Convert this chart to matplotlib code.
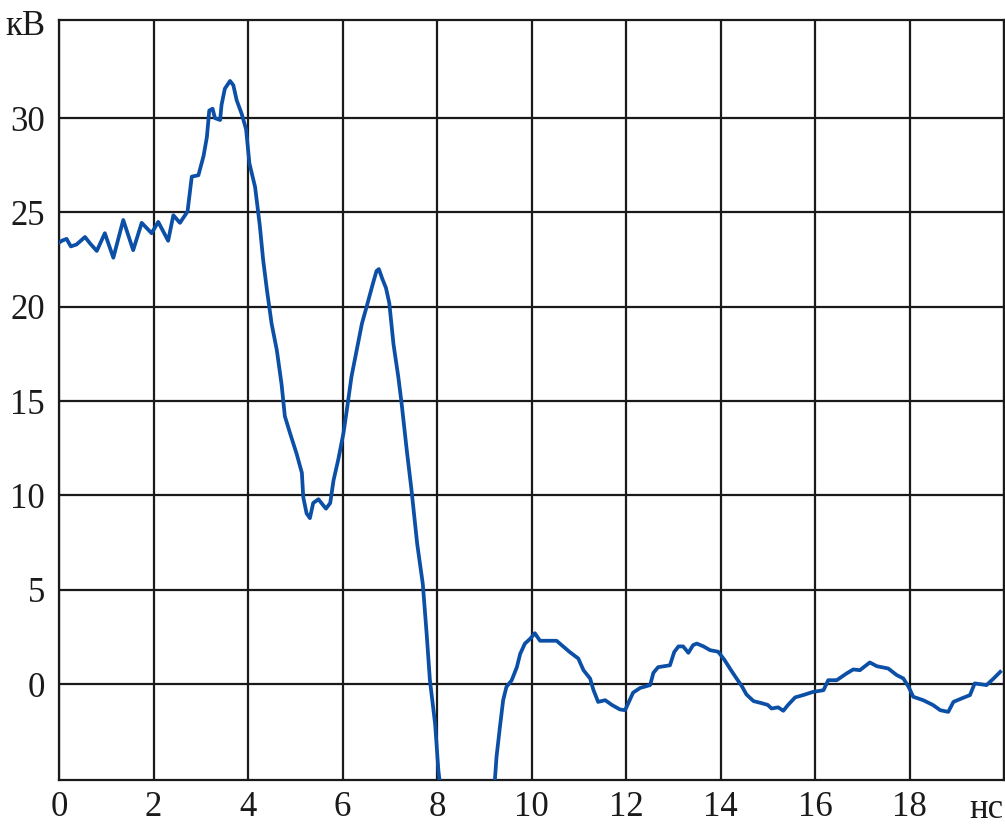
import matplotlib
matplotlib.use('Agg')
import matplotlib.pyplot as plt

# pulse before the dip below the axis
t_a = [0.0, 0.06, 0.16, 0.25, 0.37, 0.55, 0.66, 0.80, 0.97, 1.15, 1.36, 1.57, 1.75,
       1.96, 2.10, 2.31, 2.42, 2.56, 2.72, 2.81, 2.95, 3.06, 3.13, 3.18, 3.25, 3.30,
       3.41, 3.44, 3.51, 3.62, 3.69, 3.76, 3.87, 3.96, 4.03, 4.15, 4.25, 4.32, 4.40,
       4.50, 4.61, 4.71, 4.78, 4.89, 5.03, 5.14, 5.17, 5.24, 5.31, 5.38, 5.49, 5.65,
       5.74, 5.81, 5.91, 6.02, 6.09, 6.19, 6.30, 6.41, 6.51, 6.64, 6.72, 6.77, 6.84,
       6.92, 6.99, 7.08, 7.18, 7.25, 7.36, 7.46, 7.58, 7.70, 7.78, 7.85, 7.96, 8.03, 8.08]
v_a = [23.4, 23.5, 23.6, 23.2, 23.3, 23.7, 23.35, 22.96, 23.9, 22.6, 24.6, 23.0, 24.45,
       23.9, 24.5, 23.5, 24.85, 24.45, 25.05, 26.9, 26.97, 28.0, 29.0, 30.4, 30.5, 30.0,
       29.9, 30.7, 31.56, 31.97, 31.74, 30.95, 30.2, 29.4, 27.6, 26.35, 24.3, 22.5, 20.9,
       19.1, 17.7, 15.9, 14.2, 13.3, 12.2, 11.2, 9.9, 9.05, 8.8, 9.6, 9.8, 9.3,
       9.6, 10.8, 11.9, 13.3, 14.5, 16.3, 17.7, 19.1, 20.0, 21.2, 21.9, 22.0, 21.5,
       21.0, 20.2, 18.0, 16.3, 14.9, 12.4, 10.3, 7.45, 5.3, 2.7, 0.2, -2.1, -4.6, -5.6]

# ringing after it comes back
t_b = [9.21, 9.26, 9.33, 9.40, 9.47, 9.58, 9.69, 9.76, 9.86, 9.97, 10.07, 10.18, 10.36,
       10.53, 10.67, 10.81, 10.99, 11.10, 11.24, 11.31, 11.41, 11.56, 11.70, 11.87, 11.98,
       12.05, 12.15, 12.30, 12.51, 12.58, 12.68, 12.93, 13.02, 13.11, 13.21, 13.32, 13.42,
       13.50, 13.64, 13.78, 13.95, 14.08, 14.22, 14.34, 14.45, 14.55, 14.70, 14.86, 15.00,
       15.08, 15.22, 15.33, 15.43, 15.58, 15.75, 15.96, 16.18, 16.28, 16.46, 16.67, 16.81,
       16.95, 17.16, 17.31, 17.55, 17.73, 17.87, 17.98, 18.08, 18.29, 18.50, 18.65, 18.82,
       18.93, 19.10, 19.28, 19.38, 19.63, 19.78, 19.92]
v_b = [-5.6, -3.85, -2.3, -0.85, -0.14, 0.2, 0.9, 1.6, 2.15, 2.4, 2.7, 2.3, 2.3,
       2.3, 2.0, 1.7, 1.36, 0.74, 0.3, -0.3, -0.94, -0.85, -1.1, -1.34, -1.38,
       -1.0, -0.45, -0.2, -0.05, 0.6, 0.9, 1.0, 1.7, 2.0, 2.0, 1.66, 2.07,
       2.15, 2.0, 1.8, 1.72, 1.3, 0.75, 0.3, -0.1, -0.55, -0.9, -1.0, -1.1,
       -1.29, -1.23, -1.41, -1.1, -0.70, -0.58, -0.41, -0.32, 0.21, 0.21, 0.57, 0.78,
       0.74, 1.15, 0.95, 0.83, 0.48, 0.3, -0.14, -0.67, -0.85, -1.11, -1.38, -1.47,
       -0.94, -0.76, -0.58, 0.04, -0.05, 0.3, 0.65]

x_ticks = [0, 2, 4, 6, 8, 10, 12, 14, 16, 18, 20]
x_labels = ['0', '2', '4', '6', '8', '10', '12', '14', '16', '18', '']
y_ticks = [0, 5, 10, 15, 20, 25, 30]
y_labels = ['0', '5', '10', '15', '20', '25', '30']

plt.rcParams['font.family'] = ['Liberation Serif', 'DejaVu Serif']

W, H = 1005, 831
fig = plt.figure(figsize=(W / 100, H / 100), dpi=100)
ax = fig.add_axes([59 / W, (H - 780) / H, 945 / W, 760 / H])

line_color = '#0b4fa6'
ax.plot(t_a, v_a, color=line_color, lw=2.7, zorder=3)
ax.plot(t_b, v_b, color=line_color, lw=2.7, zorder=3)

ax.set_xlim(0, 20)
ax.set_ylim(-5.08, 35.2)
ax.set_xticks(x_ticks)
ax.set_xticklabels(x_labels)
ax.set_yticks(y_ticks)
ax.set_yticklabels(y_labels)
ax.tick_params(length=0, labelsize=25, colors='#1a1a1a')
ax.tick_params(axis='y', pad=10)
ax.tick_params(axis='x', pad=8)
ax.grid(True, color='#1a1a1a', lw=1.6)
for s in ax.spines.values():
    s.set_color('#1a1a1a')
    s.set_linewidth(1.6)

fig.text(45 / W, 1 - 35 / H, 'кВ', ha='right', va='baseline', fontsize=25, color='#1a1a1a')
fig.text(1003 / W, 1 - 818 / H, 'нс', ha='right', va='baseline', fontsize=25, color='#1a1a1a')

fig.savefig('out.png', dpi=100)
